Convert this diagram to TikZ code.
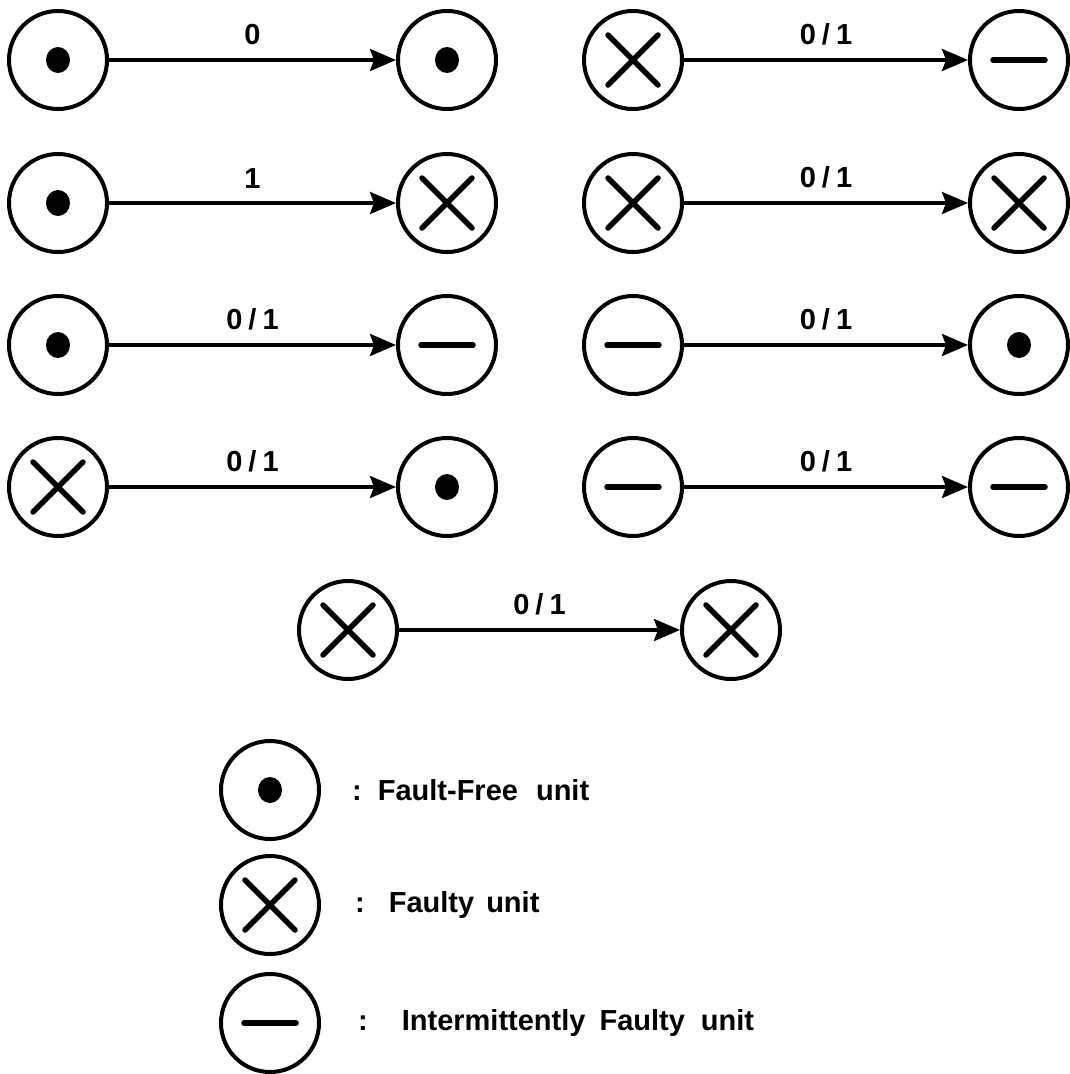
\documentclass[tikz,border=0pt]{standalone}
\usepackage{fontspec}
\setmainfont{Liberation Sans}
\usetikzlibrary{arrows.meta}
\begin{document}
\begin{tikzpicture}[x=1pt,y=-1pt,
  unit/.style={circle, draw, line width=4pt, minimum size=98pt, inner sep=0pt},
  ffree/.style={unit, path picture={\fill (path picture bounding box.center) ellipse (12pt and 13pt);}},
  faulty/.style={unit, path picture={\draw[line width=5.5pt,line cap=round]
      ([shift={(-25pt,-25pt)}]path picture bounding box.center) -- ([shift={(25pt,25pt)}]path picture bounding box.center)
      ([shift={(-25pt,25pt)}]path picture bounding box.center) -- ([shift={(25pt,-25pt)}]path picture bounding box.center);}},
  interm/.style={unit, path picture={\draw[line width=5.5pt,line cap=round]
      ([shift={(-26pt,0pt)}]path picture bounding box.center) -- ([shift={(26pt,0pt)}]path picture bounding box.center);}},
  trans/.style={line width=3.5pt, -{Stealth[length=26pt,width=22pt,inset=4pt]}},
  lbl/.style={font=\bfseries\fontsize{29}{35}\selectfont, midway, above=13pt, inner sep=0pt},
  legtxt/.style={font=\bfseries\fontsize{29}{35}\selectfont, anchor=west, inner sep=0pt}]
\useasboundingbox (0,0) rectangle (1070,1074);
% left column
\node[ffree]  (a1) at (58,60) {};  \node[ffree]  (b1) at (447,60) {};
\node[ffree]  (a2) at (58,203) {}; \node[faulty] (b2) at (447,203) {};
\node[ffree]  (a3) at (58,345) {}; \node[interm] (b3) at (447,345) {};
\node[faulty] (a4) at (58,487) {}; \node[ffree]  (b4) at (447,487) {};
% right column
\node[faulty] (c1) at (633,60) {};  \node[interm] (d1) at (1019,60) {};
\node[faulty] (c2) at (633,203) {}; \node[faulty] (d2) at (1019,203) {};
\node[interm] (c3) at (633,345) {}; \node[ffree]  (d3) at (1019,345) {};
\node[interm] (c4) at (633,487) {}; \node[interm] (d4) at (1019,487) {};
% bottom pair
\node[faulty] (e1) at (348,630) {}; \node[faulty] (e2) at (731,630) {};
% transitions
\draw[trans] (a1) -- node[lbl] {0} (b1);
\draw[trans] (a2) -- node[lbl] {1} (b2);
\draw[trans] (a3) -- node[lbl] {0\kern6pt/\kern6pt1} (b3);
\draw[trans] (a4) -- node[lbl] {0\kern6pt/\kern6pt1} (b4);
\draw[trans] (c1) -- node[lbl] {0\kern6pt/\kern6pt1} (d1);
\draw[trans] (c2) -- node[lbl] {0\kern6pt/\kern6pt1} (d2);
\draw[trans] (c3) -- node[lbl] {0\kern6pt/\kern6pt1} (d3);
\draw[trans] (c4) -- node[lbl] {0\kern6pt/\kern6pt1} (d4);
\draw[trans] (e1) -- node[lbl] {0\kern6pt/\kern6pt1} (e2);
% legend
\node[ffree]  (l1) at (270,790) {};
\node[faulty] (l2) at (270,905) {};
\node[interm] (l3) at (270,1023) {};
\node[legtxt] (t1) at (352,790) {:\hspace{16pt}Fault-Free\hspace{18pt}unit};
\node[legtxt] (t2) at (355,905) {:\hspace{24pt}Faulty\hspace{12pt}unit};
\node[legtxt] (t3) at (358,1023) {:\hspace{34pt}Intermittently\hspace{14pt}Faulty\hspace{16pt}unit};
\end{tikzpicture}
\end{document}
